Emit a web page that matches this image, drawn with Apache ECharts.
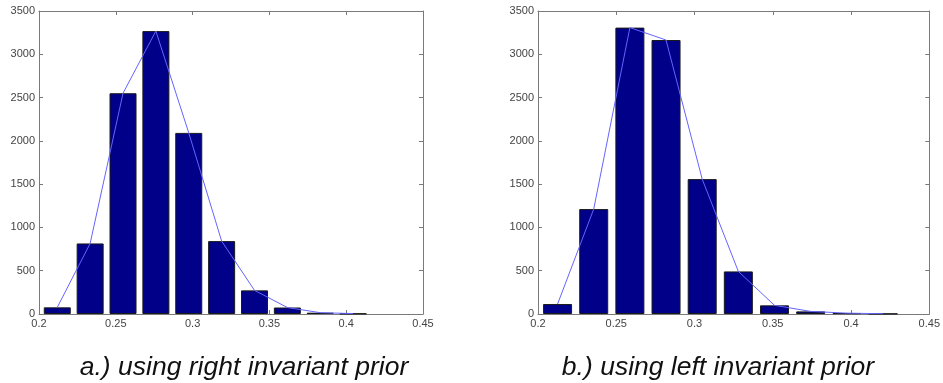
<!DOCTYPE html>
<html>
<head>
<meta charset="utf-8">
<script src="https://cdn.jsdelivr.net/npm/echarts@6/dist/echarts.min.js"></script>
<style>
  html, body { margin: 0; padding: 0; background: #ffffff; }
  #chart { width: 943px; height: 383px; }
</style>
</head>
<body>
<div id="chart"></div>
<script>
// Bin centres and counts
var binCentersA = [0.2119, 0.2333, 0.2547, 0.2761, 0.2975, 0.3189, 0.3403, 0.3617, 0.3831, 0.4045];
var countsA     = [77, 815, 2550, 3268, 2092, 842, 273, 75, 15, 5];
var binCentersB = [0.2125, 0.2356, 0.2587, 0.2818, 0.3049, 0.3280, 0.3511, 0.3742, 0.3974, 0.4205];
var countsB     = [115, 1212, 3308, 3165, 1558, 492, 100, 30, 10, 3];
var xTickMin = 0.2, xTickMax = 0.45, xTickStep = 0.05;
var yTickMin = 0, yTickMax = 3500, yTickStep = 500;
var captionA = 'a.) using right invariant prior';
var captionB = 'b.) using left invariant prior';

function pairs(xs, ys) { return xs.map(function (x, i) { return [x, ys[i]]; }); }

var axisColor = '#7a7a7a';
var labelColor = '#444444';
var fontFam = '"Liberation Sans", Arial, sans-serif';

function xAxisDef(gridIndex, pos, showLabel) {
  return {
    type: 'value', gridIndex: gridIndex, position: pos,
    min: xTickMin, max: xTickMax, interval: xTickStep,
    axisLine: { show: true, onZero: false, lineStyle: { color: axisColor, width: 1 } },
    axisTick: { show: true, inside: true, length: 4, lineStyle: { color: axisColor } },
    axisLabel: { show: showLabel, color: labelColor, fontSize: 11, fontFamily: fontFam, margin: 4,
      formatter: function (v) { return String(parseFloat(v.toFixed(4))); } },
    splitLine: { show: false }
  };
}
function yAxisDef(gridIndex, pos, showLabel) {
  return {
    type: 'value', gridIndex: gridIndex, position: pos,
    min: yTickMin, max: yTickMax, interval: yTickStep,
    axisLine: { show: true, onZero: false, lineStyle: { color: axisColor, width: 1 } },
    axisTick: { show: true, inside: true, length: 4, lineStyle: { color: axisColor } },
    axisLabel: { show: showLabel, color: labelColor, fontSize: 11, fontFamily: fontFam, margin: 4,
      formatter: function (v) { return String(Math.round(v)); } },
    splitLine: { show: false }
  };
}

var chart = echarts.init(document.getElementById('chart'), null, { renderer: 'canvas' });
chart.setOption({
  backgroundColor: '#ffffff',
  animation: false,
  title: [
    { text: captionA, left: 239, top: 349, textAlign: 'center',
      textStyle: { fontStyle: 'italic', fontWeight: 'normal', fontSize: 26.5, color: '#111111', fontFamily: fontFam } },
    { text: captionB, left: 713, top: 349, textAlign: 'center',
      textStyle: { fontStyle: 'italic', fontWeight: 'normal', fontSize: 26.5, color: '#111111', fontFamily: fontFam } }
  ],
  grid: [
    { left: 39, top: 11, width: 384, height: 303, containLabel: false },
    { left: 538, top: 11, width: 392, height: 303, containLabel: false }
  ],
  xAxis: [
    xAxisDef(0, 'bottom', true), xAxisDef(0, 'top', false),
    xAxisDef(1, 'bottom', true), xAxisDef(1, 'top', false)
  ],
  yAxis: [
    yAxisDef(0, 'left', true), yAxisDef(0, 'right', false),
    yAxisDef(1, 'left', true), yAxisDef(1, 'right', false)
  ],
  series: [
    { type: 'bar', xAxisIndex: 0, yAxisIndex: 0, data: pairs(binCentersA, countsA), barWidth: 27, z: 2,
      itemStyle: { color: '#000088', borderColor: '#1a1a1a', borderWidth: 1 } },
    { type: 'line', xAxisIndex: 0, yAxisIndex: 0, data: pairs(binCentersA, countsA), showSymbol: false, z: 5,
      lineStyle: { color: '#6464ff', width: 1 } },
    { type: 'bar', xAxisIndex: 2, yAxisIndex: 2, data: pairs(binCentersB, countsB), barWidth: 29, z: 2,
      itemStyle: { color: '#000088', borderColor: '#1a1a1a', borderWidth: 1 } },
    { type: 'line', xAxisIndex: 2, yAxisIndex: 2, data: pairs(binCentersB, countsB), showSymbol: false, z: 5,
      lineStyle: { color: '#6464ff', width: 1 } }
  ]
});
</script>
</body>
</html>
